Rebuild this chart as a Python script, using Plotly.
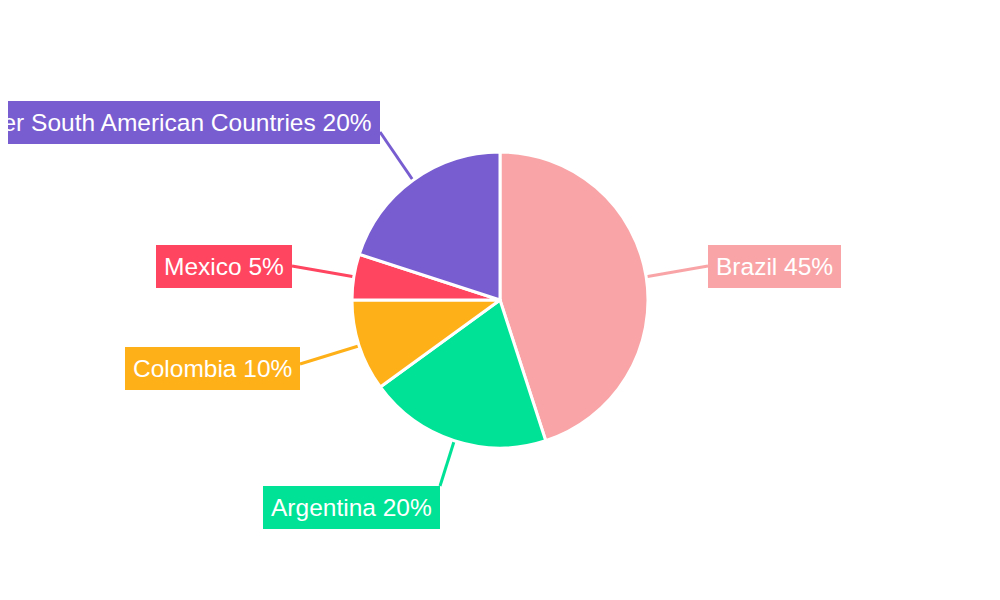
import math
import plotly.graph_objects as go

# Data
countries = ['Brazil', 'Argentina', 'Colombia', 'Mexico', 'Other South American Countries']
shares = [45, 20, 10, 5, 20]
colors = ['#F9A5A7', '#00E396', '#FEB019', '#FF4560', '#775DD0']

# Label box placement (page pixels): anchor point of the box and where the leader line meets it
label_pos = [
    dict(x=708, y=266, xanchor='left', yanchor='middle', lx=708, ly=266),
    dict(x=440, y=486, xanchor='right', yanchor='top', lx=440, ly=486),
    dict(x=300, y=368, xanchor='right', yanchor='middle', lx=300, ly=364),
    dict(x=292, y=266, xanchor='right', yanchor='middle', lx=292, ly=266),
    dict(x=380, y=122, xanchor='right', yanchor='middle', lx=380, ly=132),
]

# the page body has an 8px margin, so the figure is a bit smaller and shifted
OFF = 8
W, H = 1000 - 2 * OFF, 600 - 2 * OFF
CX, CY, R = 500, 300, 148


def px(x):
    return (x - OFF) / W


def py(y):
    return 1 - (y - OFF) / H


fig = go.Figure(go.Pie(
    labels=countries,
    values=shares,
    sort=False,
    direction='clockwise',
    rotation=0,
    textinfo='none',
    hoverinfo='label+percent',
    marker=dict(colors=colors, line=dict(color='white', width=3)),
    domain=dict(x=[px(CX - R), px(CX + R)], y=[py(CY + R), py(CY - R)]),
    showlegend=False,
))

total = sum(shares)
cum = 0
annotations = []
shapes = []
for name, val, col, pos in zip(countries, shares, colors, label_pos):
    theta = 2 * math.pi * (cum + val / 2) / total
    cum += val
    ex = CX + R * math.sin(theta)
    ey = CY - R * math.cos(theta)
    # leader line from slice edge to label box
    shapes.append(dict(
        type='line', xref='paper', yref='paper',
        x0=px(ex), y0=py(ey), x1=px(pos['lx']), y1=py(pos['ly']),
        line=dict(color=col, width=3), layer='below',
    ))
    annotations.append(dict(
        text=f"{name} {round(100 * val / total)}%",
        xref='paper', yref='paper',
        x=px(pos['x']), y=py(pos['y']),
        xanchor=pos['xanchor'], yanchor=pos['yanchor'],
        showarrow=False,
        bgcolor=col, borderpad=8, borderwidth=0,
        font=dict(family='Liberation Sans, Arial, sans-serif', size=24.5, color='white'),
    ))

fig.update_layout(
    width=W, height=H,
    margin=dict(l=0, r=0, t=0, b=0),
    paper_bgcolor='white',
    plot_bgcolor='white',
    shapes=shapes,
    annotations=annotations,
)

fig.write_html("out.html")
